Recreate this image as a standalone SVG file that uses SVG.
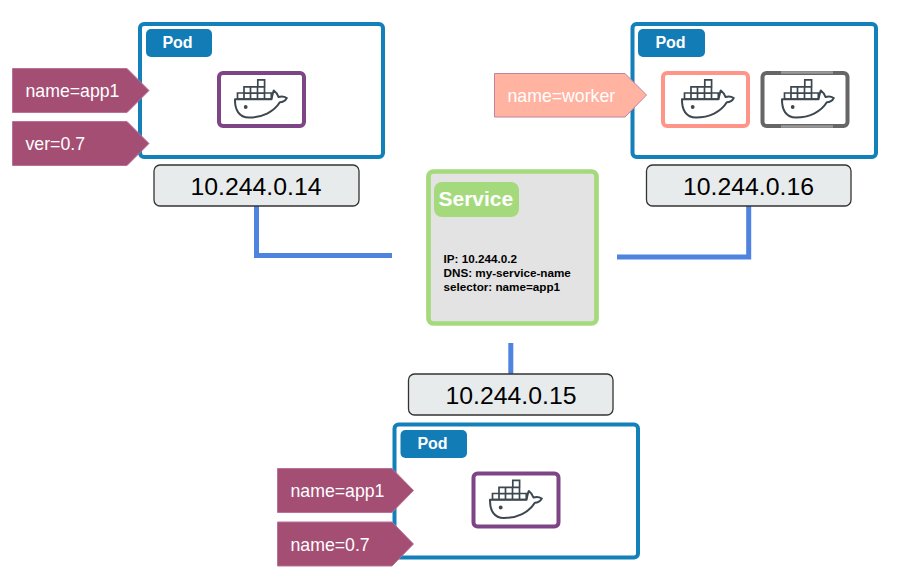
<svg xmlns="http://www.w3.org/2000/svg" width="897" height="570" viewBox="0 0 897 570">
<style>
text{font-family:"Liberation Sans",Arial,sans-serif}
.pod{fill:#fff;stroke:#1380b9;stroke-width:4}
.badge{fill:#127cb7}
.badget{fill:#fff;font-size:16px;font-weight:bold;text-anchor:middle}
.tag{fill:#a44e74;stroke:#b9709b;stroke-width:1}
.tagt{fill:#fff;font-size:17.7px}
.ip{fill:#e8ebeb;stroke:#333;stroke-width:1.3}
.ipt{fill:#000;font-size:24.8px;text-anchor:middle}
.box{fill:#fff;stroke-width:4}
.conn{fill:none;stroke:#4f83e0;stroke-width:5}
.svc{font-size:11.7px;font-weight:bold;fill:#000}
.edge{stroke:#999;stroke-width:2.5;fill:none}
</style>
<defs>
<g id="whale" fill="none" stroke="#3c4750" stroke-width="1.7">
<path d="M39.800 7.800h6.800v7.200h-6.800zM26 14.800h6.500v6.300H26zM32.500 14.800h7v6.300h-7zM39.500 14.800h7v6.300h-7zM19.500 21h6.500v6h-6.500zM26 21h6.500v6H26zM32.500 21h7v6h-7zM39.500 21h7v6h-7zM46.500 21h6.800v6h-6.800z"/>
<path d="M17 27.300H53.500C54.300 24 54.600 21 55.800 18.500C58.500 20.500 59.800 22.500 60.500 25C63.500 24 66.500 24.500 68.800 26C67 29.300 64 30.300 61.800 30.300C56 40 44 45.500 31 45.500C21 45.500 16.800 38 17 27.300Z" stroke-width="2" stroke-linejoin="round"/>
<circle cx="27.700" cy="35" r="1.900" fill="#3c4750" stroke="none"/>
</g>
</defs>
<g id="connectors">
<path class="conn" d="M256.500 206V255.500H392"/>
<path class="conn" d="M617 257H748.700V206"/>
<path class="conn" d="M510.800 343V374"/>
</g>
<g id="pod-14">
<rect class="pod" x="140" y="24" width="243" height="133" rx="4"/>
<rect class="badge" x="146" y="29" width="66" height="28" rx="5"/>
<text class="badget" x="177.500" y="47.500">Pod</text>
<rect class="box" x="219" y="73" width="85" height="53" rx="4" stroke="#7d4585"/>
<use href="#whale" x="218" y="72"/>
</g>
<g id="tag-name-app1">
<path class="tag" d="M12.500 68.500H127L149 90.500L127 112.500H12.500Z"/>
<text class="tagt" x="25.500" y="97">name=app1</text>
</g>
<g id="tag-ver">
<path class="tag" d="M12.500 121.500H127L149 143.500L127 165.500H12.500Z"/>
<text class="tagt" x="25.500" y="150">ver=0.7</text>
</g>
<g id="ip-14">
<rect class="ip" x="154" y="165" width="205" height="41" rx="6"/>
<text class="ipt" x="256" y="195">10.244.0.14</text>
</g>
<g id="pod-16">
<rect class="pod" x="632.500" y="24" width="243.500" height="133" rx="4"/>
<rect class="badge" x="638" y="29" width="67" height="28" rx="5"/>
<text class="badget" x="670.500" y="47.500">Pod</text>
<rect class="box" x="663" y="73" width="85" height="53" rx="4" stroke="#ff9488"/>
<use href="#whale" x="665" y="72"/>
<rect class="box" x="762.500" y="73" width="85" height="53" rx="4" stroke="#666"/>
<path class="edge" d="M781 72.500H833M781 126.500H833"/>
<use href="#whale" x="765" y="72"/>
</g>
<g id="tag-worker">
<path d="M494.500 73.500H625L646.500 95L625 117H494.500Z" fill="#ffb3a0" stroke="#c77f9f" stroke-width="1"/>
<text class="tagt" x="507.500" y="102">name=worker</text>
</g>
<g id="ip-16">
<rect class="ip" x="646.500" y="165" width="204.500" height="41" rx="6"/>
<text class="ipt" x="748.500" y="195">10.244.0.16</text>
</g>
<g id="service">
<rect x="428.500" y="171.500" width="168" height="152" rx="5" fill="#e3e3e3" stroke="#a5da7c" stroke-width="4.700"/>
<rect x="434" y="182" width="85" height="35" rx="8" fill="#a5da7c"/>
<text x="438.500" y="205.500" fill="#fff" font-size="21" font-weight="bold">Service</text>
<text class="svc" x="443.500" y="262.500">IP: 10.244.0.2</text>
<text class="svc" x="443.500" y="276.500">DNS: my-service-name</text>
<text class="svc" x="443.500" y="290.500">selector: name=app1</text>
</g>
<g id="ip-15">
<rect class="ip" x="408.500" y="374" width="204.500" height="41" rx="6"/>
<text class="ipt" x="511" y="404">10.244.0.15</text>
</g>
<g id="pod-15">
<rect class="pod" x="394.500" y="424.500" width="243.500" height="133" rx="4"/>
<rect class="badge" x="400.500" y="430" width="66.500" height="28" rx="5"/>
<text class="badget" x="432.500" y="448.500">Pod</text>
<rect class="box" x="473.500" y="473.500" width="85" height="53" rx="4" stroke="#7d4585"/>
<use href="#whale" x="473" y="472.500"/>
</g>
<g id="tag-name-app1-b">
<path class="tag" d="M277.500 468.500H392L413.500 490.500L392 512.500H277.500Z"/>
<text class="tagt" x="290.500" y="497">name=app1</text>
</g>
<g id="tag-name-07">
<path class="tag" d="M277.500 522H392L413.500 544L392 566H277.500Z"/>
<text class="tagt" x="290.500" y="550.500">name=0.7</text>
</g>
</svg>
